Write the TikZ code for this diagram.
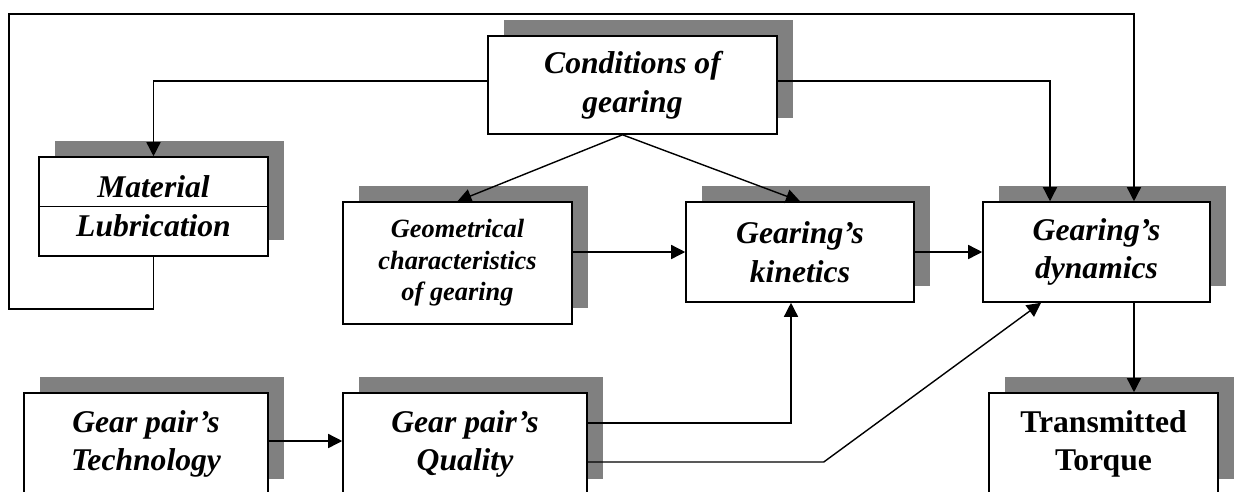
\documentclass[tikz,border=0pt]{standalone}
\usepackage{fontspec}
\setmainfont{Liberation Serif}
\usetikzlibrary{arrows.meta,shadows}

\tikzset{
  box/.style={draw, line width=0.9pt, fill=white, align=center, inner sep=2pt,
    font=\fontsize{18}{22}\selectfont\bfseries\itshape,
    drop shadow={shadow xshift=0.32cm, shadow yshift=0.32cm, fill=black!50, opacity=1}},
  conn/.style={line width=0.8pt, -{Triangle[length=0.28cm, width=0.28cm]}}
}

\begin{document}
\begin{tikzpicture}[x=0.02cm, y=-0.02cm]
    \useasboundingbox (0,0) rectangle (1235,491);

    \node (cond) [box, minimum width=5.78cm, minimum height=1.96cm] at (632.5,85) {Conditions of\\gearing};
    \node (mat) [box, minimum width=4.58cm, minimum height=1.98cm] at (153.5,206.5) {Material\\Lubrication};
    \node (geo) [box, minimum width=4.58cm, minimum height=2.44cm, font=\fontsize{15}{18}\selectfont\bfseries\itshape] at (457.5,263) {Geometrical\\characteristics\\of gearing};
    \node (kin) [box, minimum width=4.56cm, minimum height=2cm] at (800,252) {Gearing’s\\kinetics};
    \node (dyn) [box, minimum width=4.54cm, minimum height=2cm] at (1096.5,252) {Gearing’s\\dynamics};
    \node (tech) [box, minimum width=4.88cm, minimum height=2.04cm] at (146,444) {Gear pair’s\\Technology};
    \node (qual) [box, minimum width=4.88cm, minimum height=2.04cm] at (465,444) {Gear pair’s\\Quality};
    \node (torque) [box, minimum width=4.58cm, minimum height=2.04cm, font=\fontsize{18}{22}\selectfont\bfseries] at (1103.5,444) {Transmitted\\Torque};
    \draw [line width=0.9pt] (mat.west) -- (mat.east);

    \coordinate (loopbl) at (9,309);
    \coordinate (looptl) at (9,14);

    \draw [conn] ([yshift=0.08cm]cond.west) -| (mat.north);
    \draw [conn] ([yshift=0.08cm]cond.east) -| ([xshift=-0.93cm]dyn.north);
    \draw [conn] (mat.south) |- (loopbl) -- (looptl) -| ([xshift=0.75cm]dyn.north);
    \draw [conn] ([xshift=-0.2cm]cond.south) -- (geo.north);
    \draw [conn] ([xshift=-0.2cm]cond.south) -- (kin.north);
    \draw [conn] (geo.east |- kin.west) -- (kin.west);
    \draw [conn] (kin.east) -- (dyn.west);
    \draw [conn] ([xshift=0.75cm]dyn.south) -- ([xshift=0.75cm]dyn.south |- torque.north);
    \draw [conn] ([yshift=0.06cm]tech.east) -- ([yshift=0.06cm]qual.west);
    \draw [conn] ([yshift=0.42cm]qual.east) -| ([xshift=-0.18cm]kin.south);
    \draw [conn] ([yshift=-0.36cm]qual.east) -- ++(236,0) -- ([xshift=-1.11cm]dyn.south);
\end{tikzpicture}
\end{document}
